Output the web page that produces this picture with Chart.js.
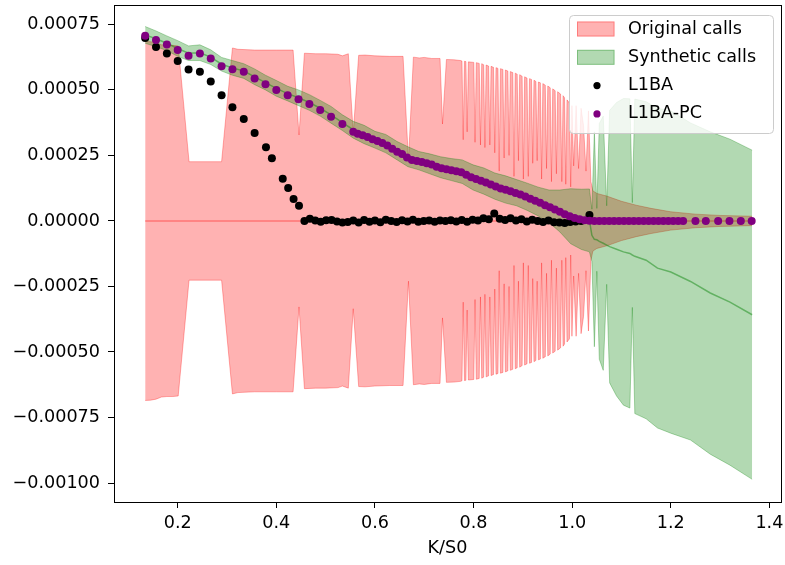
<!DOCTYPE html>
<html>
<head>
<meta charset="utf-8">
<script src="https://cdn.jsdelivr.net/npm/chart.js@4.4.1/dist/chart.umd.min.js"></script>
<style>
  html, body { margin: 0; padding: 0; background: #fff; }
  #wrap { width: 785px; height: 565px; }
</style>
</head>
<body>
<div id="wrap"><canvas id="callsChart" width="785" height="565"></canvas></div>
<script>
// all y values below are in units of 1e-4
const UNIT = 1e-4;

// Original calls: band of +/- spread around zero
const origK = [
  0.134, 0.145, 0.156, 0.167, 0.178, 0.190, 0.201, 0.223, 0.289, 0.311,
  0.322, 0.356, 0.400, 0.434, 0.446, 0.457, 0.480, 0.500, 0.525, 0.534,
  0.546, 0.556, 0.567, 0.580, 0.600, 0.630, 0.657, 0.668, 0.678, 0.690,
  0.700, 0.715, 0.732, 0.737, 0.745, 0.760, 0.774,
  0.7765, 0.779, 0.7815, 0.7845, 0.787, 0.7895, 0.8005, 0.803, 0.8055,
  0.8115, 0.814, 0.8165, 0.8205, 0.823, 0.8255, 0.8305, 0.833, 0.8355,
  0.8405, 0.843, 0.8455, 0.8495, 0.852, 0.8545, 0.8595, 0.862, 0.8645,
  0.8695, 0.872, 0.8745, 0.8795, 0.882, 0.8845, 0.8885, 0.891, 0.8935,
  0.8985, 0.901, 0.9035, 0.9085, 0.911, 0.9135, 0.9175, 0.920, 0.9225,
  0.9265, 0.929, 0.9315, 0.9355, 0.938, 0.9405, 0.9455, 0.948, 0.9505,
  0.9555, 0.958, 0.9605, 0.9655, 0.968, 0.9705, 0.9765, 0.979, 0.9815,
  0.9845, 0.987, 0.9895, 0.9945, 0.997, 0.9995,
  1.003, 1.008, 1.013, 1.018, 1.023, 1.028, 1.033, 1.038, 1.042,
  1.050, 1.070, 1.100, 1.130, 1.160, 1.200, 1.250, 1.300, 1.365
];
const origSpread = [
  6.85, 6.84, 6.80, 6.72, 6.70, 6.70, 6.68, 2.26, 2.26, 6.60,
  6.55, 6.52, 6.52, 6.52, 3.28, 6.40, 6.38, 6.38, 6.36, 6.30,
  6.38, 3.35, 6.32, 6.33, 6.30, 6.28, 6.28, 2.30, 6.25, 6.22,
  6.24, 6.20, 6.20, 3.70, 6.16, 6.15, 6.12,
  6.10, 3.1, 6.09, 6.08, 3.4, 6.07, 6.05, 3.0, 6.04,
  6.01, 2.9, 6.00, 5.96, 2.8, 5.95, 5.91, 2.9, 5.90,
  5.86, 2.6, 5.85, 5.82, 1.9, 5.81, 5.78, 2.4, 5.76,
  5.72, 2.5, 5.70, 5.66, 1.7, 5.64, 5.60, 2.3, 5.58,
  5.52, 1.6, 5.50, 5.45, 1.7, 5.43, 5.40, 2.2, 5.37,
  5.32, 2.3, 5.30, 5.27, 1.6, 5.24, 5.18, 2.0, 5.15,
  5.08, 1.5, 5.04, 4.97, 1.8, 4.93, 4.84, 1.5, 4.78,
  4.70, 1.4, 4.62, 4.50, 1.3, 4.40,
  2.10, 4.40, 2.00, 4.30, 3.65, 1.90, 4.20, 1.50, 1.15,
  1.05, 0.95, 0.75, 0.60, 0.48, 0.35, 0.26, 0.21, 0.18
];

// Synthetic calls: mid price and spread
const synthK = [
  0.134, 0.156, 0.178, 0.200, 0.222, 0.245, 0.267, 0.289, 0.311, 0.334,
  0.356, 0.378, 0.400, 0.423, 0.445, 0.467, 0.489, 0.511, 0.534, 0.556,
  0.578, 0.600, 0.622, 0.645, 0.667, 0.689, 0.711, 0.733, 0.755, 0.777,
  0.799, 0.821, 0.843, 0.865, 0.887, 0.909, 0.931, 0.953, 0.975, 0.997,
  1.019, 1.035, 1.040, 1.045, 1.050, 1.055, 1.063, 1.070, 1.076, 1.090,
  1.104, 1.117, 1.122, 1.127, 1.150, 1.173, 1.200, 1.240, 1.280, 1.320,
  1.365
];
const synthMid = [
  7.10, 6.95, 6.78, 6.58, 6.40, 6.42, 6.25, 5.98, 5.84, 5.72,
  5.50, 5.28, 5.06, 4.86, 4.70, 4.52, 4.30, 4.05, 3.75, 3.48,
  3.30, 3.10, 2.95, 2.68, 2.45, 2.30, 2.18, 2.05, 1.96, 1.88,
  1.66, 1.52, 1.33, 1.20, 1.08, 0.92, 0.74, 0.56, 0.38, 0.18,
  0.06, 0.02, -0.55, -0.70, -0.72, -0.78, -0.85, -0.92, -0.98, -1.08,
  -1.18, -1.24, -1.30, -1.35, -1.50, -1.80, -1.95, -2.31, -2.75, -3.10,
  -3.58
];
const synthSpread = [
  0.32, 0.30, 0.28, 0.30, 0.28, 0.30, 0.28, 0.26, 0.28, 0.28,
  0.30, 0.28, 0.30, 0.28, 0.30, 0.30, 0.30, 0.32, 0.30, 0.32,
  0.35, 0.32, 0.35, 0.35, 0.38, 0.35, 0.38, 0.40, 0.42, 0.45,
  0.48, 0.50, 0.50, 0.52, 0.50, 0.52, 0.55, 0.62, 0.80, 1.05,
  1.15, 1.20, 1.00, 4.10, 1.20, 4.50, 4.85, 1.50, 5.20, 5.60,
  5.85, 5.90, 2.00, 6.00, 6.05, 6.10, 6.15, 6.05, 6.15, 6.22,
  6.28
];

// L1BA
const baK = [
  0.134, 0.156, 0.178, 0.200, 0.222, 0.245, 0.267, 0.289, 0.311, 0.334,
  0.356, 0.379, 0.391, 0.413, 0.424, 0.435, 0.446,
  0.457, 0.468, 0.479, 0.490, 0.501, 0.512, 0.523, 0.534, 0.545, 0.556,
  0.567, 0.578, 0.589, 0.600, 0.611, 0.622, 0.633, 0.644, 0.655, 0.666,
  0.677, 0.688, 0.699, 0.710, 0.721, 0.732, 0.743, 0.754, 0.765, 0.776,
  0.787, 0.798, 0.809, 0.820, 0.831, 0.842, 0.853, 0.864, 0.875, 0.886,
  0.897, 0.908, 0.919, 0.930, 0.941, 0.952, 0.963, 0.974, 0.985, 0.996,
  1.007, 1.018, 1.035
];
const baValue = [
  6.98, 6.64, 6.39, 6.10, 5.78, 5.69, 5.32, 4.80, 4.34, 3.89,
  3.36, 2.81, 2.39, 1.61, 1.26, 0.84, 0.58,
  0.00, 0.08, 0.02, -0.03, 0.03, 0.04, -0.02, -0.06, -0.04, 0.02,
  -0.06, 0.04, -0.03, 0.02, -0.05, 0.05, 0.00, -0.04, 0.03, -0.02,
  0.05, -0.03, 0.00, 0.02, -0.03, 0.02, 0.00, 0.03, -0.02, 0.04,
  -0.03, 0.05, 0.02, 0.10, 0.06, 0.28, 0.08, 0.04, 0.10, 0.02,
  0.06, -0.02, 0.05, 0.00, -0.04, 0.02, -0.05, -0.06, -0.08, -0.04,
  -0.02, 0.00, 0.23
];

// L1BA-PC
const pcK = [
  0.134, 0.156, 0.178, 0.200, 0.222, 0.245, 0.267, 0.289, 0.311, 0.334,
  0.356, 0.378, 0.400, 0.423, 0.445, 0.467, 0.489, 0.511, 0.534, 0.556,
  0.565, 0.575, 0.585, 0.595, 0.605, 0.615, 0.625, 0.635, 0.645, 0.655,
  0.665, 0.675, 0.685, 0.695, 0.705, 0.715, 0.725, 0.735, 0.745, 0.755,
  0.765, 0.775, 0.785, 0.795, 0.805, 0.815, 0.825, 0.835, 0.845, 0.855,
  0.865, 0.875, 0.885, 0.895, 0.905, 0.915, 0.925, 0.935, 0.945, 0.955,
  0.965, 0.975, 0.985, 0.995, 1.005, 1.015, 1.025, 1.035, 1.045, 1.055,
  1.065, 1.075, 1.085, 1.095, 1.105, 1.115, 1.125, 1.135, 1.145, 1.155,
  1.165, 1.175, 1.185, 1.195, 1.205, 1.215, 1.225,
  1.250, 1.271, 1.296, 1.319, 1.342, 1.364
];
const pcValue = [
  7.07, 6.90, 6.73, 6.52, 6.30, 6.39, 6.20, 5.90, 5.79, 5.69,
  5.44, 5.22, 5.00, 4.80, 4.64, 4.46, 4.23, 3.98, 3.70, 3.40,
  3.33, 3.27, 3.20, 3.12, 3.05, 2.97, 2.88, 2.75, 2.64, 2.55,
  2.42, 2.33, 2.29, 2.25, 2.20, 2.15, 2.07, 2.01, 1.97, 1.93,
  1.90, 1.86, 1.76, 1.67, 1.60, 1.53, 1.47, 1.39, 1.31, 1.24,
  1.19, 1.13, 1.07, 1.01, 0.93, 0.85, 0.77, 0.69, 0.60, 0.52,
  0.44, 0.35, 0.26, 0.18, 0.11, 0.06, 0.03, 0.01, 0.00, 0.00,
  0.00, 0.00, 0.00, 0.00, 0.00, 0.00, 0.00, 0.00, 0.00, 0.00,
  0.00, 0.00, 0.00, 0.00, 0.00, 0.00, 0.00,
  0.00, 0.00, 0.00, 0.00, 0.00, 0.00
];

// axis ticks
const xTickValues = [0.2, 0.4, 0.6, 0.8, 1.0, 1.2, 1.4];
const yTickValues = [-0.001, -0.00075, -0.0005, -0.00025, 0, 0.00025, 0.0005, 0.00075];

const RED_FILL = 'rgba(255, 0, 0, 0.3)';
const GREEN_FILL = 'rgba(0, 128, 0, 0.3)';
const FONT = { family: 'DejaVu Sans', size: 17.6 };

Chart.defaults.font.family = 'DejaVu Sans';
Chart.defaults.color = '#000';

function toPoints(ks, vs) {
  return ks.map((k, i) => ({ x: k, y: vs[i] * UNIT }));
}

function bandLine(label, data, color, fill, order) {
  return {
    label, data, fill, order,
    borderColor: color, backgroundColor: color,
    borderWidth: 1, pointRadius: 0, tension: 0
  };
}

const origUpper = origK.map((k, i) => ({ x: k, y: origSpread[i] * UNIT }));
const origLower = origK.map((k, i) => ({ x: k, y: -origSpread[i] * UNIT }));
const synthUpper = synthK.map((k, i) => ({ x: k, y: (synthMid[i] + synthSpread[i]) * UNIT }));
const synthLower = synthK.map((k, i) => ({ x: k, y: (synthMid[i] - synthSpread[i]) * UNIT }));

const legendItems = [
  { label: 'Original calls', patch: RED_FILL },
  { label: 'Synthetic calls', patch: GREEN_FILL },
  { label: 'L1BA', dot: '#000000' },
  { label: 'L1BA-PC', dot: '#800080' }
];

// axes frame and legend box drawn over the data
const framePlugin = {
  id: 'frame',
  afterDatasetsDraw(chart) {
    const { ctx, chartArea: a } = chart;
    ctx.save();
    ctx.strokeStyle = '#000';
    ctx.lineWidth = 1;
    ctx.strokeRect(a.left + 0.5, a.top + 0.5, a.right - a.left, a.bottom - a.top);

    // legend
    const bx = 569.5, by = 15.5, bw = 204, bh = 118, r = 4;
    ctx.beginPath();
    ctx.moveTo(bx + r, by);
    ctx.arcTo(bx + bw, by, bx + bw, by + bh, r);
    ctx.arcTo(bx + bw, by + bh, bx, by + bh, r);
    ctx.arcTo(bx, by + bh, bx, by, r);
    ctx.arcTo(bx, by, bx + bw, by, r);
    ctx.closePath();
    ctx.fillStyle = 'rgba(255, 255, 255, 0.8)';
    ctx.fill();
    ctx.strokeStyle = '#cccccc';
    ctx.stroke();

    ctx.font = FONT.size + 'px "DejaVu Sans"';
    ctx.textBaseline = 'middle';
    ctx.textAlign = 'left';
    legendItems.forEach((item, i) => {
      const cy = 29 + i * 28.3;
      if (item.patch) {
        ctx.fillStyle = item.patch;
        ctx.fillRect(577, cy - 7.5, 37.5, 15);
        ctx.strokeStyle = item.patch;
        ctx.strokeRect(577.5, cy - 7, 36.5, 14);
      } else {
        ctx.fillStyle = item.dot;
        ctx.beginPath();
        ctx.arc(597, cy, 3.6, 0, Math.PI * 2);
        ctx.fill();
      }
      ctx.fillStyle = '#000';
      ctx.fillText(item.label, 628, cy);
    });
    ctx.restore();
  }
};

new Chart(document.getElementById('callsChart'), {
  type: 'line',
  data: {
    datasets: [
      bandLine('Original calls', origUpper, RED_FILL, false, 7),
      bandLine('Original calls lower', origLower, RED_FILL, '-1', 6),
      {
        label: 'Original mid',
        data: [{ x: origK[0], y: 0 }, { x: origK[origK.length - 1], y: 0 }],
        borderColor: 'rgba(255, 0, 0, 0.35)', borderWidth: 1.5,
        pointRadius: 0, fill: false, order: 5
      },
      bandLine('Synthetic calls', synthUpper, GREEN_FILL, false, 4),
      bandLine('Synthetic calls lower', synthLower, GREEN_FILL, '-1', 3),
      {
        label: 'Synthetic mid',
        data: toPoints(synthK, synthMid),
        borderColor: 'rgba(0, 128, 0, 0.45)', borderWidth: 1.5,
        pointRadius: 0, fill: false, order: 2
      },
      {
        label: 'L1BA',
        data: toPoints(baK, baValue),
        showLine: false, pointRadius: 4, pointBorderWidth: 0,
        pointBackgroundColor: '#000000', borderColor: '#000000', order: 1
      },
      {
        label: 'L1BA-PC',
        data: toPoints(pcK, pcValue),
        showLine: false, pointRadius: 4, pointBorderWidth: 0,
        pointBackgroundColor: '#800080', borderColor: '#800080', order: 0
      }
    ]
  },
  options: {
    responsive: false,
    animation: false,
    events: [],
    layout: { padding: { left: 0, right: 4, top: 5, bottom: 0 } },
    plugins: {
      legend: { display: false },
      tooltip: { enabled: false }
    },
    scales: {
      x: {
        type: 'linear',
        min: 0.0708,
        max: 1.4235,
        afterBuildTicks: axis => { axis.ticks = xTickValues.map(v => ({ value: v })); },
        afterFit: s => { s.height = 63; s.paddingLeft = 0; s.paddingRight = 0; },
        ticks: {
          callback: v => v.toFixed(1),
          font: FONT, color: '#000', padding: 5,
          maxRotation: 0, autoSkip: false
        },
        grid: { drawOnChartArea: false, drawTicks: true, tickLength: 6, color: '#000' },
        border: { display: true, color: '#000', width: 1 },
        title: {
          display: true, text: 'K/S0', font: FONT, color: '#000',
          padding: { top: 0, bottom: 6 }
        }
      },
      y: {
        type: 'linear',
        min: -0.0010725,
        max: 0.000824,
        afterBuildTicks: axis => { axis.ticks = yTickValues.map(v => ({ value: v })); },
        afterFit: s => { s.width = 114; s.paddingTop = 0; s.paddingBottom = 0; },
        ticks: {
          callback: v => (v < -1e-12 ? '\u2212' : '') + Math.abs(v).toFixed(5),
          font: FONT, color: '#000', padding: 8
        },
        grid: { drawOnChartArea: false, drawTicks: true, tickLength: 6, color: '#000' },
        border: { display: true, color: '#000', width: 1 }
      }
    }
  },
  plugins: [framePlugin]
});
</script>
</body>
</html>
